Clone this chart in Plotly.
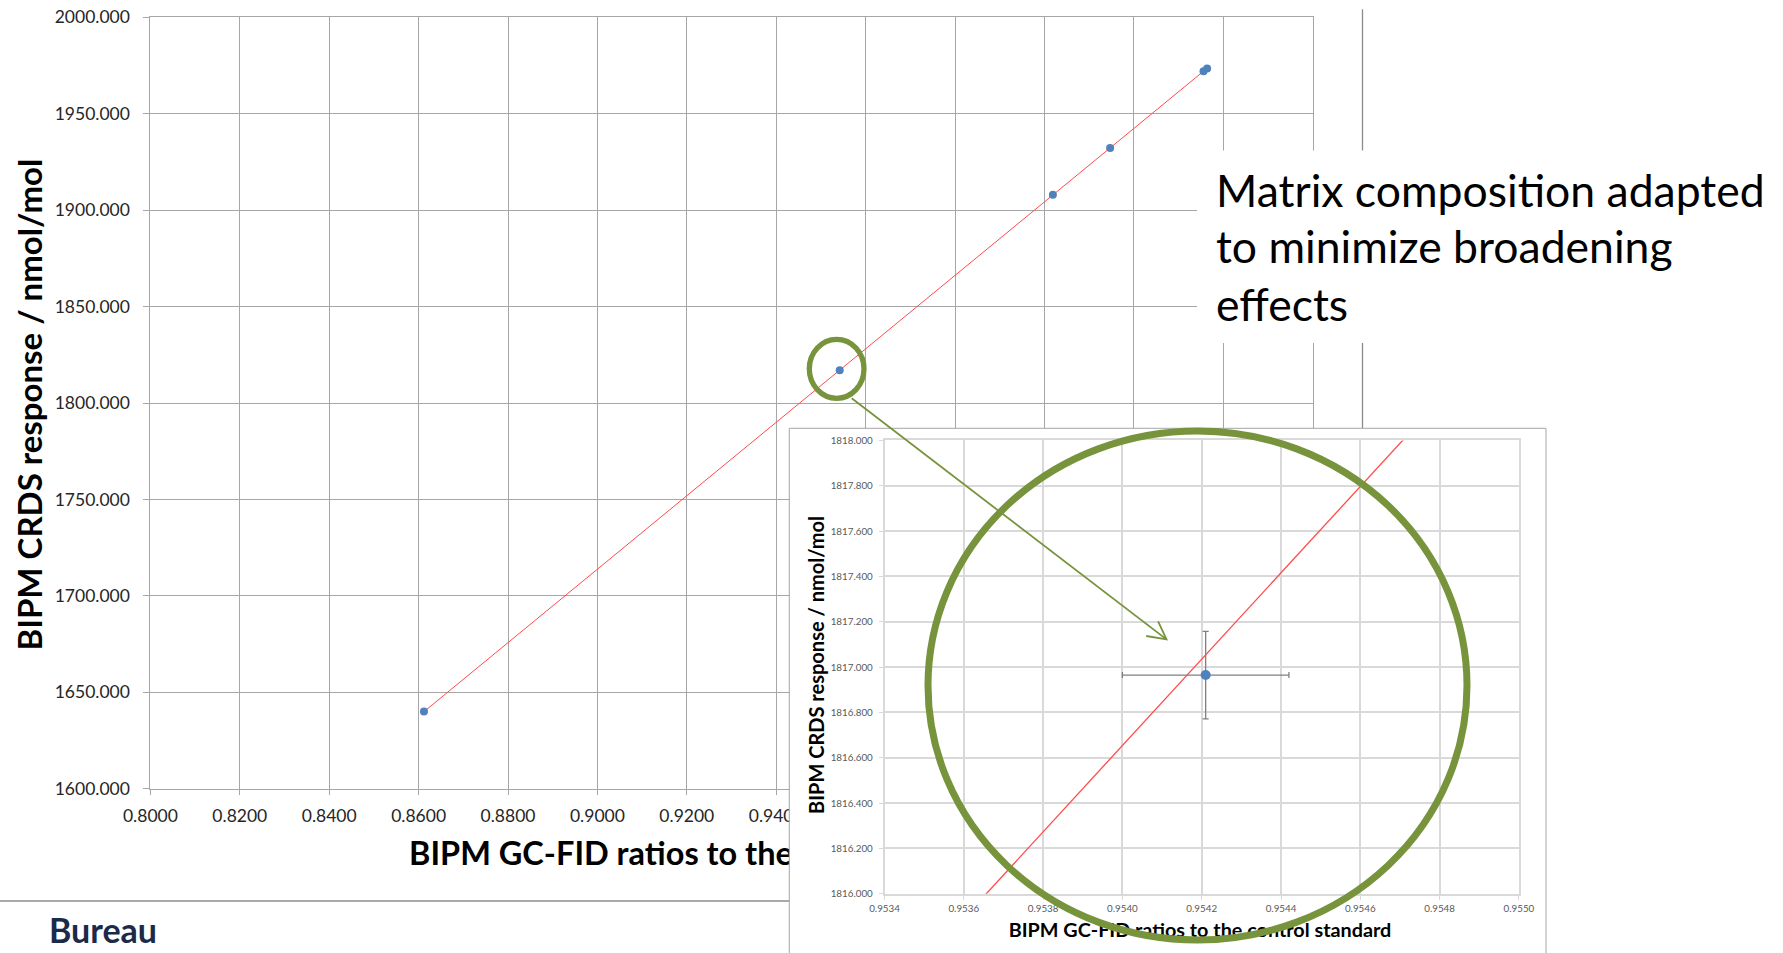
import plotly.graph_objects as go
import numpy as np

W, H = 1783, 953

# ---------------- data ----------------
gcfid_ratio = [0.8612, 0.95421, 1.0019, 1.0147, 1.0356, 1.0364]
crds_response = [1640.0, 1816.965, 1908.0, 1932.2, 1972.05, 1973.5]
gcfid_unc = [0.00021, 0.00021, 0.00021, 0.00021, 0.00021, 0.00021]
crds_unc = [0.193, 0.193, 0.193, 0.193, 0.193, 0.193]

inset_ratio = [0.95421]
inset_response = [1816.965]
inset_ratio_unc = [0.00021]
inset_response_unc = [0.193]

main_xticks = [0.80, 0.82, 0.84, 0.86, 0.88, 0.90, 0.92, 0.94, 0.96, 0.98, 1.00, 1.02, 1.04, 1.06]
main_xlabels = ["0.8000", "0.8200", "0.8400", "0.8600", "0.8800", "0.9000", "0.9200", "0.9400",
                "", "", "", "", "", ""]  # labels beyond 0.94 lie under the inset
main_yticks = [1600, 1650, 1700, 1750, 1800, 1850, 1900, 1950, 2000]
inset_xticks = [0.9534, 0.9536, 0.9538, 0.9540, 0.9542, 0.9544, 0.9546, 0.9548, 0.9550]
inset_yticks = [1816.0, 1816.2, 1816.4, 1816.6, 1816.8, 1817.0, 1817.2, 1817.4, 1817.6, 1817.8, 1818.0]

y_title = "BIPM CRDS response / nmol/mol"
x_title = "BIPM GC-FID ratios to the control standard"
x_title_visible = "BIPM GC-FID ratios to the"   # the rest of the main x title is hidden by the inset
note_lines = ["Matrix composition adapted", "to minimize broadening", "effects"]

# trendline through origin (linear fit, intercept set to 0)
xa = np.array(gcfid_ratio)
ya = np.array(crds_response)
slope = float((xa * ya).sum() / (xa * xa).sum())
trend_x = [xa.min(), xa.max()]
trend_y = [slope * v for v in trend_x]
inset_trend_x = [0.9530, 0.9555]
inset_trend_y = [slope * v for v in inset_trend_x]


def px(x):
    return x / W


def py(y):
    return 1 - y / H


FONT = "Lato"
GREEN = "#77933C"
BLUE = "#4F81BD"
RED = "#FF4A4A"

fig = go.Figure()

# main chart
fig.add_trace(go.Scatter(x=trend_x, y=trend_y, mode="lines",
                         line=dict(color=RED, width=1), xaxis="x", yaxis="y",
                         showlegend=False, hoverinfo="skip"))
fig.add_trace(go.Scatter(x=gcfid_ratio, y=crds_response, mode="markers",
                         marker=dict(color=BLUE, size=8),
                         error_x=dict(type="data", array=gcfid_unc, color="#000000", thickness=1, width=2),
                         error_y=dict(type="data", array=crds_unc, color="#000000", thickness=1, width=2),
                         xaxis="x", yaxis="y", showlegend=False))

# main x title (drawn in a holder subplot so the inset box covers its end)
fig.add_trace(go.Scatter(x=[409], y=[856.7], mode="text", text=[x_title_visible],
                         textfont=dict(family=FONT, size=32.5, color="#000000", weight="bold"),
                         textposition="middle right", cliponaxis=False,
                         marker=dict(size=0.1),
                         xaxis="x2", yaxis="y2", showlegend=False, hoverinfo="skip"))

# inset box content: x title
fig.add_trace(go.Scatter(x=[1200], y=[932.5], mode="text", text=[x_title],
                         textfont=dict(family=FONT, size=19.8, color="#000000", weight="bold"),
                         textposition="middle center", cliponaxis=False,
                         xaxis="x3", yaxis="y3", showlegend=False, hoverinfo="skip"))

# inset chart
fig.add_trace(go.Scatter(x=inset_trend_x, y=inset_trend_y, mode="lines",
                         line=dict(color=RED, width=1.3), xaxis="x4", yaxis="y4",
                         showlegend=False, hoverinfo="skip"))
fig.add_trace(go.Scatter(x=inset_ratio, y=inset_response, mode="markers",
                         marker=dict(color=BLUE, size=10),
                         error_x=dict(type="data", array=inset_ratio_unc, color="#808080", thickness=1.3, width=3),
                         error_y=dict(type="data", array=inset_response_unc, color="#808080", thickness=1.3, width=3),
                         xaxis="x4", yaxis="y4", showlegend=False))

main_grid = "#a6a6a6"
inset_grid = "#d9d9d9"

layout = dict(
    width=W, height=H,
    autosize=False,
    margin=dict(l=0, r=0, t=0, b=0, pad=0, autoexpand=False),
    paper_bgcolor="white", plot_bgcolor="white",
    showlegend=False,
    xaxis=dict(domain=[px(150.4), px(1312.6)], range=[0.80, 1.06],
               tickvals=main_xticks, ticktext=main_xlabels,
               showgrid=True, gridcolor=main_grid, gridwidth=1,
               showline=True, linecolor=main_grid, linewidth=1, mirror=True,
               ticks="outside", ticklen=5, tickcolor=main_grid,
               ticklabelstandoff=6,
               tickfont=dict(family=FONT, size=17.5, color="#262626"),
               zeroline=False, anchor="y"),
    yaxis=dict(domain=[py(788.7), py(17.3)], range=[1600, 2000],
               tickvals=main_yticks, ticktext=[f"{v:.3f}" for v in main_yticks],
               showgrid=True, gridcolor=main_grid, gridwidth=1,
               showline=True, linecolor=main_grid, linewidth=1, mirror=True,
               ticks="outside", ticklen=6, tickcolor=main_grid,
               ticklabelstandoff=10,
               tickfont=dict(family=FONT, size=17.5, color="#262626"),
               zeroline=False, anchor="x"),
    xaxis2=dict(domain=[0, 1], range=[0, W], visible=False, anchor="y2"),
    yaxis2=dict(domain=[0, py(800)], range=[953, 800], visible=False, anchor="x2"),
    xaxis3=dict(domain=[px(789.3), px(1546)], range=[789.3, 1546], visible=False, anchor="y3"),
    yaxis3=dict(domain=[0, py(428.3)], range=[953, 428.3], visible=False, anchor="x3"),
    xaxis4=dict(domain=[px(884.5), px(1518.9)], range=[0.9534, 0.9550],
                tickvals=inset_xticks, ticktext=[f"{v:.4f}" for v in inset_xticks],
                showgrid=True, gridcolor=inset_grid, gridwidth=1.5,
                showline=True, linecolor=inset_grid, linewidth=1.5, mirror=True,
                ticks="outside", ticklen=4, tickcolor=inset_grid,
                ticklabelstandoff=1,
                tickfont=dict(family=FONT, size=9.8, color="#595959"),
                zeroline=False, anchor="y4"),
    yaxis4=dict(domain=[py(893.8), py(440.4)], range=[1816, 1818],
                tickvals=inset_yticks, ticktext=[f"{v:.3f}" for v in inset_yticks],
                showgrid=True, gridcolor=inset_grid, gridwidth=1.5,
                showline=True, linecolor=inset_grid, linewidth=1.5, mirror=True,
                ticks="outside", ticklen=4, tickcolor=inset_grid,
                ticklabelstandoff=4,
                tickfont=dict(family=FONT, size=9.8, color="#595959"),
                zeroline=False, anchor="x4"),
)


def P(x, y):
    return f"{px(x):.6f},{py(y):.6f}"


shapes = [
    # slide frame line
    dict(type="line", xref="paper", yref="paper", x0=px(1362.5), x1=px(1362.5),
         y0=py(9.3), y1=py(428.3), line=dict(color="#8c8c8c", width=1.3), layer="above"),
    # white text box behind the note
    dict(type="rect", xref="paper", yref="paper", x0=px(1197), x1=1.0,
         y0=py(343), y1=py(150.5), fillcolor="white", line=dict(width=0), layer="above"),
    # separator line
    dict(type="line", xref="paper", yref="paper", x0=0, x1=px(789.3),
         y0=py(901), y1=py(901), line=dict(color="#8c8c8c", width=1.5), layer="above"),
    # inset box border
    dict(type="path", xref="paper", yref="paper",
         path=f"M{P(789.3, 960)} L{P(789.3, 428.3)} L{P(1546, 428.3)} L{P(1546, 960)}",
         line=dict(color="#a6a6a6", width=1), layer="above"),
    # small circle
    dict(type="circle", xref="paper", yref="paper", x0=px(809.3), x1=px(864),
         y0=py(398.3), y1=py(339.3), line=dict(color=GREEN, width=5.3), layer="above"),
    # arrow shaft
    dict(type="line", xref="paper", yref="paper", x0=px(851.7), y0=py(398.3),
         x1=px(1166.5), y1=py(639.4), line=dict(color=GREEN, width=1.8), layer="above"),
    # arrow head
    dict(type="path", xref="paper", yref="paper",
         path=f"M{P(1158.1, 621.4)} L{P(1166.5, 639.4)} L{P(1146.2, 636)}",
         line=dict(color=GREEN, width=1.8), layer="above"),
    # big circle
    dict(type="circle", xref="paper", yref="paper", x0=px(928), x1=px(1467),
         y0=py(940), y1=py(431), line=dict(color=GREEN, width=7), layer="above"),
]
layout["shapes"] = shapes

annotations = [
    dict(text=f"<b>{y_title}</b>", xref="paper", yref="paper", x=px(28.6), y=py(405),
         xanchor="center", yanchor="middle", textangle=-90, showarrow=False,
         font=dict(family=FONT, size=33, color="#000000")),
    dict(text=f"<b>{y_title}</b>", xref="paper", yref="paper", x=px(816), y=py(665),
         xanchor="center", yanchor="middle", textangle=-90, showarrow=False,
         font=dict(family=FONT, size=20, color="#000000")),
    dict(text="<b>Bureau</b>", xref="paper", yref="paper", x=px(47), y=py(952),
         xanchor="left", yanchor="bottom", showarrow=False,
         font=dict(family=FONT, size=34, color="#1c2a4a")),
]
note_centers = [189, 246, 303]
for line_text, yc in zip(note_lines, note_centers):
    annotations.append(dict(text=line_text, xref="paper", yref="paper", x=px(1214), y=py(yc),
                            xanchor="left", yanchor="middle", showarrow=False,
                            font=dict(family=FONT, size=44.5, color="#000000")))
layout["annotations"] = annotations

fig.update_layout(**layout)
fig.write_html("out.html")
